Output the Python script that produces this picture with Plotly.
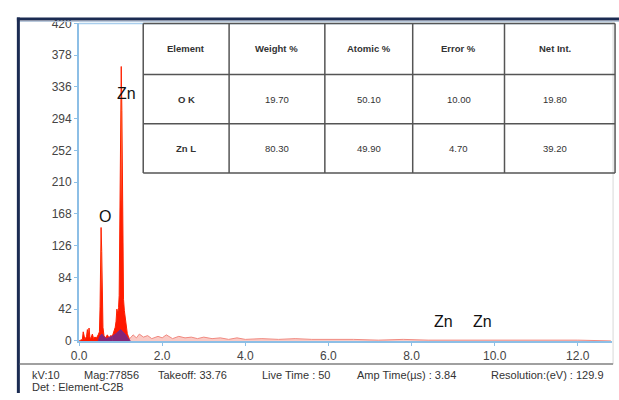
import plotly.graph_objects as go

W, H = 619, 400

# ---- Spectrum data (energy keV, counts) ----
o_energy = [0.00, 0.08, 0.10, 0.12, 0.14, 0.18, 0.20, 0.22, 0.24, 0.26, 0.28, 0.32, 0.35, 0.38, 0.42, 0.46,
            0.49, 0.505, 0.515, 0.53, 0.545, 0.56, 0.575, 0.60, 0.64, 0.68, 0.72, 0.76, 0.80]
o_counts = [0, 2, 12, 3, 2, 6, 15, 4, 17, 5, 3, 9, 3, 5, 4, 8,
            12, 45, 105, 150, 118, 55, 18, 7, 4, 8, 4, 7, 6]

zn_energy = [0.80, 0.84, 0.87, 0.89, 0.91, 0.93, 0.95, 0.965, 0.975, 0.985, 1.00, 1.015, 1.03, 1.045,
             1.055, 1.07, 1.09, 1.11, 1.13, 1.16, 1.19, 1.22]
zn_counts = [6, 12, 18, 26, 42, 36, 44, 60, 110, 205, 320, 363, 305, 200,
             110, 55, 40, 30, 20, 10, 5, 3]

bg_energy = [1.22, 1.3, 1.38, 1.45, 1.55, 1.65, 1.75, 1.9, 2.0, 2.1, 2.25, 2.4, 2.55, 2.7, 2.85, 3.0,
             3.2, 3.4, 3.6, 3.8, 4.0, 4.4, 4.8, 5.2, 5.6, 6.0, 6.6, 7.2, 7.8, 8.4, 9.0, 10.0, 11.0, 12.0, 12.8]
bg_counts = [3, 8, 4, 9, 5, 7, 3, 6, 4, 8, 3, 6, 4, 5, 3, 5,
             3, 4, 2, 4, 2, 3, 2, 3, 2, 2, 2, 1, 2, 1, 1, 1, 1, 1, 0]

purple_energy = [0.46, 0.50, 0.55, 0.60, 0.66, 0.72, 0.80, 0.88, 0.95, 1.00, 1.05, 1.12, 1.18, 1.24]
purple_counts = [0, 6, 9, 5, 3, 4, 6, 9, 13, 15, 12, 8, 3, 0]

# ---- Peak labels ----
peak_labels = ["Zn", "O", "Zn", "Zn"]
peak_label_x = [1.14, 0.62, 8.77, 9.72]
peak_label_y = [327, 164, 25, 25]

# ---- Axis ticks ----
x_ticks = [0, 2, 4, 6, 8, 10, 12]
x_ticktext = ["0.0", "2.0", "4.0", "6.0", "8.0", "10.0", "12.0"]
y_ticks = [0, 42, 84, 126, 168, 210, 252, 294, 336, 378, 420]

# ---- Table data ----
table_header = ["Element", "Weight %", "Atomic %", "Error %", "Net Int."]
table_rows = [
    ["O K", "19.70", "50.10", "10.00", "19.80"],
    ["Zn L", "80.30", "49.90", "4.70", "39.20"],
]

# ---- Footer text ----
footer_items = ["kV:10", "Mag:77856", "Takeoff: 33.76", "Live Time : 50",
                "Amp Time(µs) : 3.84", "Resolution:(eV) : 129.9"]
footer_line2 = "Det : Element-C2B"

# ---- layout geometry (pixels) ----
PL, PR, PT, PB = 72, 612, 17, 346


def px(x):
    return x / W


def py(y):
    return 1 - y / H


grad = [[0, "#ff1500"], [0.5, "#ff2200"], [0.68, "#ff6a3a"], [0.8, "#ffa040"], [0.88, "#ffe040"], [1, "#ffff90"]]

fig = go.Figure()
fig.add_trace(go.Scatter(x=o_energy, y=o_counts, mode="lines", line=dict(color="#ff2000", width=1),
                         fill="tozeroy", fillgradient=dict(type="vertical", colorscale=grad, start=0, stop=152),
                         hoverinfo="skip", showlegend=False))
fig.add_trace(go.Scatter(x=zn_energy, y=zn_counts, mode="lines", line=dict(color="#ff2000", width=1),
                         fill="tozeroy", fillgradient=dict(type="vertical", colorscale=grad, start=0, stop=366),
                         hoverinfo="skip", showlegend=False))
fig.add_trace(go.Scatter(x=bg_energy, y=bg_counts, mode="lines", line=dict(color="#f08a80", width=1),
                         fill="tozeroy", fillcolor="rgba(245,150,140,0.5)",
                         hoverinfo="skip", showlegend=False))
fig.add_trace(go.Scatter(x=purple_energy, y=purple_counts, mode="lines", line=dict(color="#7a2a8a", width=1),
                         fill="tozeroy", fillcolor="rgba(110,40,140,0.85)",
                         hoverinfo="skip", showlegend=False))

for t, x, y in zip(peak_labels, peak_label_x, peak_label_y):
    fig.add_annotation(x=x, y=y, text=t, showarrow=False, font=dict(size=16, color="#111"),
                       xref="x", yref="y")

shapes = []
annotations = []

# outer dark frame
shapes.append(dict(type="line", xref="paper", yref="paper", x0=px(9), x1=px(619), y0=py(12.5), y1=py(12.5),
                   line=dict(color="#1b2b52", width=3)))
shapes.append(dict(type="line", xref="paper", yref="paper", x0=px(9), x1=px(619), y0=py(15), y1=py(15),
                   line=dict(color="#b8c8dc", width=1)))
shapes.append(dict(type="line", xref="paper", yref="paper", x0=px(10.5), x1=px(10.5), y0=py(11), y1=py(400),
                   line=dict(color="#1b2b52", width=3)))
# plot right border
shapes.append(dict(type="line", xref="paper", yref="paper", x0=px(613), x1=px(613), y0=py(15), y1=py(370),
                   line=dict(color="#d8d8d8", width=1)))
# plot top border (light blue)
shapes.append(dict(type="line", xref="paper", yref="paper", x0=px(PL), x1=px(PR), y0=py(PT), y1=py(PT),
                   line=dict(color="#a8cdec", width=1.5)))
# footer separator
shapes.append(dict(type="line", xref="paper", yref="paper", x0=px(12), x1=px(613), y0=py(370), y1=py(370),
                   line=dict(color="#a0a0a0", width=2)))

# table
col_edges = [137, 224, 321, 410, 503, 615]
row_edges = [17, 70, 121, 172]
tcol = "#555555"
for ye in row_edges:
    shapes.append(dict(type="line", xref="paper", yref="paper", x0=px(col_edges[0]), x1=px(col_edges[-1]),
                       y0=py(ye), y1=py(ye), line=dict(color=tcol, width=1.5)))
for xe in col_edges:
    shapes.append(dict(type="line", xref="paper", yref="paper", x0=px(xe), x1=px(xe),
                       y0=py(row_edges[0]), y1=py(row_edges[-1]), line=dict(color=tcol, width=1.5)))
shapes.insert(0, dict(type="rect", xref="paper", yref="paper", x0=px(col_edges[0]), x1=px(col_edges[-1]),
                      y0=py(row_edges[0]), y1=py(row_edges[-1]), fillcolor="white", line=dict(width=0),
                      layer="above"))
for i, row in enumerate([table_header] + table_rows):
    yc = (row_edges[i] + row_edges[i + 1]) / 2
    for j, txt in enumerate(row):
        xc = (col_edges[j] + col_edges[j + 1]) / 2 - (5 if j == 4 else 0)
        bold = (i == 0) or (j == 0)
        annotations.append(dict(xref="paper", yref="paper", x=px(xc), y=py(yc), text=f"<b>{txt}</b>" if bold else txt,
                                showarrow=False, font=dict(size=9.5, color="#333"), xanchor="center", yanchor="middle"))

# footer
footer_x = [22, 75, 150, 255, 352, 487]
for t, x in zip(footer_items, footer_x):
    annotations.append(dict(xref="paper", yref="paper", x=px(x), y=py(381), text=t, showarrow=False,
                            font=dict(size=11, color="#333"), xanchor="left", yanchor="middle"))
annotations.append(dict(xref="paper", yref="paper", x=px(22), y=py(394), text=footer_line2, showarrow=False,
                        font=dict(size=11, color="#333"), xanchor="left", yanchor="middle"))

fig.update_layout(
    width=W, height=H,
    margin=dict(l=0, r=0, t=0, b=0),
    paper_bgcolor="white", plot_bgcolor="white",
    font=dict(family="Liberation Sans, Arial, sans-serif", color="#444"),
    shapes=shapes,
    annotations=list(fig.layout.annotations) + annotations,
    xaxis=dict(domain=[px(PL), px(PR)], range=[0, (PR - PL) / 42.1], tickvals=x_ticks, ticktext=x_ticktext,
               showgrid=False, zeroline=False, showline=True, linecolor="#8dbfe6", linewidth=2,
               ticks="outside", ticklen=3, tickcolor="#8dbfe6", tickfont=dict(size=12, color="#444")),
    yaxis=dict(domain=[py(PB), py(PT)], range=[0, 420], tickvals=y_ticks,
               showgrid=False, zeroline=False, showline=True, linecolor="#8dbfe6", linewidth=2,
               ticks="outside", ticklen=3, tickcolor="#8dbfe6", tickfont=dict(size=12, color="#444")),
    showlegend=False,
)

fig.write_html("out.html", config={"displayModeBar": False},
               post_script="document.body.style.margin='0';document.body.style.overflow='hidden';")
